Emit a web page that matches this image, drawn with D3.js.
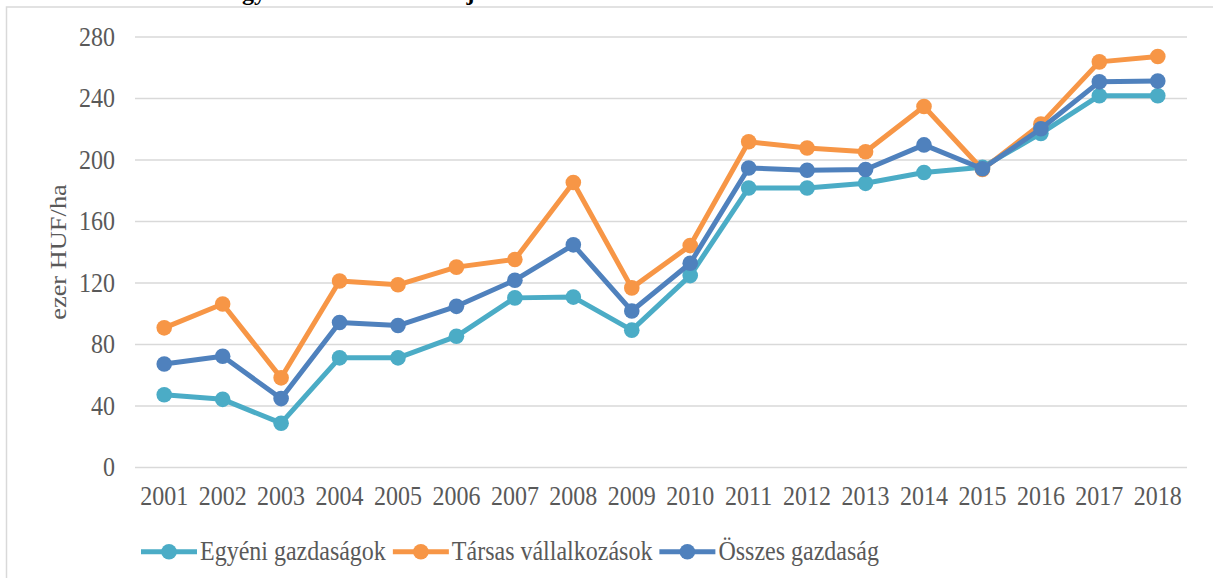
<!DOCTYPE html>
<html>
<head>
<meta charset="utf-8">
<script src="https://cdn.jsdelivr.net/npm/d3@7"></script>
<style>
  html, body { margin: 0; padding: 0; background: #fff; }
  svg { display: block; }
  text { font-family: "Liberation Serif", "Times New Roman", serif; }
</style>
</head>
<body>
<svg id="chart" width="1213" height="578"></svg>
<script>
const years = ["2001","2002","2003","2004","2005","2006","2007","2008","2009","2010","2011","2012","2013","2014","2015","2016","2017","2018"];
const egyeni = [47, 44, 28.5, 71, 71, 85, 110, 110.5, 89, 124.5, 181.5, 181.5, 184.5, 191.5, 195, 217, 241.5, 241.5];
const tarsas = [90.5, 106, 58, 121, 118.5, 130, 135, 185, 116.5, 144, 211.5, 207.5, 205, 234.5, 193.5, 223, 263.5, 267];
const osszes = [67, 72, 44.5, 94, 92, 104.5, 121.5, 144.5, 101.5, 132.5, 194.5, 193, 193.5, 209.5, 194, 220, 250.5, 251];
const yTicks = [0, 40, 80, 120, 160, 200, 240, 280];
const seriesNames = ["Egyéni gazdaságok", "Társas vállalkozások", "Összes gazdaság"];
const seriesColors = ["#4BACC6", "#F79646", "#4F81BD"];
const yTitle = "ezer HUF/ha";
const titlePre = "Az e";
const titleRest = "gy hektárra vetített díj";

const series = [egyeni, tarsas, osszes].map((vals, i) => ({name: seriesNames[i], color: seriesColors[i], values: vals}));

const svg = d3.select("#chart");
const textColor = "#595959";
const FS = 24, SY = 1.1;

// chart border (cropped)
svg.append("rect").attr("x", 6.5).attr("y", 7).attr("width", 1300).attr("height", 700)
  .attr("fill", "none").attr("stroke", "#d9d9d9").attr("stroke-width", 1.5);

// cropped title (only descenders visible, as in the reference)
const tg = svg.append("g").attr("font-weight", "bold").attr("font-size", FS).attr("fill", "#000");
tg.append("text").attr("x", 242).attr("y", 0).attr("text-anchor", "end").text(titlePre);
tg.append("text").attr("x", 242).attr("y", 0).text(titleRest);

const x = d3.scaleBand().domain(years).range([135, 1187]).padding(0);
const y = d3.scaleLinear().domain([0, 280]).range([467, 36.5]);
const cx = d => x(d) + x.bandwidth() / 2;

// grid + y axis
const yAxis = d3.axisLeft(y).tickValues(yTicks).tickSize(-(1187 - 135)).tickPadding(0).tickFormat(d3.format("d"));
const gy = svg.append("g").attr("transform", "translate(135,0)").call(yAxis);
gy.select(".domain").remove();
gy.selectAll(".tick line").attr("stroke", "#d9d9d9").attr("stroke-width", 1.6);
gy.selectAll(".tick text").attr("x", null).attr("dy", null)
  .attr("transform", `translate(-20,8.5) scale(1,${SY})`)
  .attr("fill", textColor).attr("font-size", FS).attr("text-anchor", "end")
  .style("font-family", "'Liberation Serif', serif");

// x axis labels
const xAxis = d3.axisBottom(x).tickSize(0).tickPadding(0);
const gx = svg.append("g").attr("transform", "translate(0,467)").call(xAxis);
gx.select(".domain").remove();
gx.selectAll(".tick text").attr("y", null).attr("dy", null)
  .attr("transform", `translate(0,38) scale(1,${SY})`)
  .attr("fill", textColor).attr("font-size", FS).attr("text-anchor", "middle")
  .style("font-family", "'Liberation Serif', serif");

// y title
svg.append("text").attr("transform", `translate(66,252) rotate(-90) scale(${SY},1)`)
  .attr("text-anchor", "middle").attr("fill", textColor).attr("font-size", FS).text(yTitle);

// lines
const line = d3.line().x((d, i) => cx(years[i])).y(d => y(d));
const gs = svg.append("g").selectAll("g").data(series).join("g");
gs.append("path").attr("d", d => line(d.values)).attr("fill", "none")
  .attr("stroke", d => d.color).attr("stroke-width", 5).attr("stroke-linejoin", "round").attr("stroke-linecap", "round");
gs.each(function(s) {
  d3.select(this).selectAll("circle").data(s.values).join("circle")
    .attr("cx", (d, i) => cx(years[i])).attr("cy", d => y(d)).attr("r", 7.8).attr("fill", s.color);
});

// legend
let lx = 141;
const ly = 551.7;
series.forEach(s => {
  const g = svg.append("g");
  g.append("line").attr("x1", lx).attr("x2", lx + 56).attr("y1", ly).attr("y2", ly)
    .attr("stroke", s.color).attr("stroke-width", 5);
  g.append("circle").attr("cx", lx + 28).attr("cy", ly).attr("r", 7.8).attr("fill", s.color);
  const t = g.append("text").attr("transform", `translate(${lx + 59},560) scale(1,${SY})`)
    .attr("fill", textColor).attr("font-size", FS).text(s.name);
  lx = lx + 59 + t.node().getComputedTextLength() + 7;
});
</script>
</body>
</html>
